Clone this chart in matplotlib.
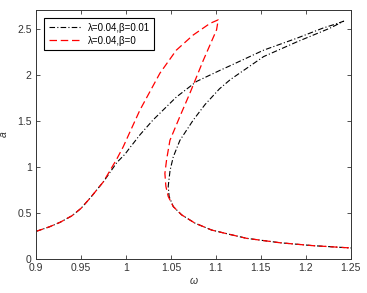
import matplotlib
matplotlib.use('Agg')
import matplotlib.pyplot as plt

plt.rcParams['font.family'] = ['Liberation Sans', 'DejaVu Sans']
plt.rcParams['font.size'] = 7.5

# beta = 0.01 (black dash-dot), path: left branch up -> peak -> middle branch down -> lower branch
w_b = [0.900, 0.915, 0.927, 0.940, 0.950, 0.960, 0.975, 0.990, 0.999, 1.0044, 1.0156,
       1.030, 1.056, 1.0785, 1.1044, 1.1156, 1.153, 1.190, 1.219, 1.235, 1.242,
       1.238, 1.227, 1.190, 1.153, 1.116, 1.104, 1.088, 1.0748, 1.060, 1.0526, 1.049,
       1.047, 1.048, 1.0526, 1.0619, 1.0767, 1.0952, 1.110, 1.134, 1.171, 1.208, 1.250]
a_b = [0.30, 0.35, 0.40, 0.47, 0.55, 0.66, 0.84, 1.05, 1.14, 1.21, 1.35,
       1.51, 1.76, 1.93, 2.05, 2.10, 2.27, 2.40, 2.51, 2.56, 2.585,
       2.565, 2.51, 2.36, 2.20, 1.95, 1.85, 1.68, 1.51, 1.29, 1.11, 0.96,
       0.79, 0.68, 0.57, 0.48, 0.39, 0.315, 0.28, 0.225, 0.177, 0.145, 0.12]

# beta = 0 (red dashed)
w_r = [0.900, 0.915, 0.927, 0.940, 0.950, 0.960, 0.975, 0.990, 0.997, 1.0044, 1.0156,
       1.0378, 1.056, 1.0748, 1.0933, 1.1026,
       1.1007, 1.086, 1.071, 1.060, 1.0489, 1.0452, 1.0433, 1.0444, 1.047,
       1.0526, 1.0619, 1.0767, 1.0952, 1.110, 1.134, 1.171, 1.208, 1.250]
a_r = [0.30, 0.35, 0.40, 0.47, 0.55, 0.66, 0.84, 1.09, 1.22, 1.38, 1.62,
       2.02, 2.27, 2.435, 2.56, 2.60,
       2.49, 2.16, 1.80, 1.55, 1.29, 1.08, 0.93, 0.79, 0.68,
       0.57, 0.48, 0.39, 0.315, 0.28, 0.225, 0.177, 0.145, 0.12]

labels = ['λ=0.04,β=0.01', 'λ=0.04,β=0']
xticks = [0.9, 0.95, 1, 1.05, 1.1, 1.15, 1.2, 1.25]
yticks = [0, 0.5, 1, 1.5, 2, 2.5]

fig = plt.figure(figsize=(3.67, 2.93), dpi=100)
ax = fig.add_axes([0.098, 0.116, 0.858, 0.85])

ax.plot(w_b, a_b, color='black', lw=0.8, linestyle=(0, (5, 2, 1, 2)), label=labels[0])
ax.plot(w_r, a_r, color='red', lw=0.9, linestyle=(0, (6, 3)), label=labels[1])

ax.set_xlim(0.9, 1.25)
ax.set_ylim(0, 2.707)
ax.set_xticks(xticks)
ax.set_xticklabels(['0.9', '0.95', '1', '1.05', '1.1', '1.15', '1.2', '1.25'])
ax.set_yticks(yticks)
ax.set_yticklabels(['0', '0.5', '1', '1.5', '2', '2.5'])
ax.tick_params(direction='in', top=True, right=True, length=3, width=0.6,
               colors='#333333', labelsize=7.5, pad=3)
for s in ax.spines.values():
    s.set_linewidth(0.7)
    s.set_color('#333333')

ax.set_xlabel('ω', fontstyle='italic', color='#333333', fontsize=7.5, labelpad=2)
ax.set_ylabel('a', fontstyle='italic', color='#333333', fontsize=7.5, labelpad=6)

leg = ax.legend(loc='upper left', fontsize=7, handlelength=3.4, borderpad=0.5,
                labelspacing=0.3, fancybox=False, framealpha=1, borderaxespad=0.8,
                handletextpad=0.6)
leg.get_frame().set_edgecolor('black')
leg.get_frame().set_linewidth(0.8)

fig.savefig('out.png', dpi=100)
